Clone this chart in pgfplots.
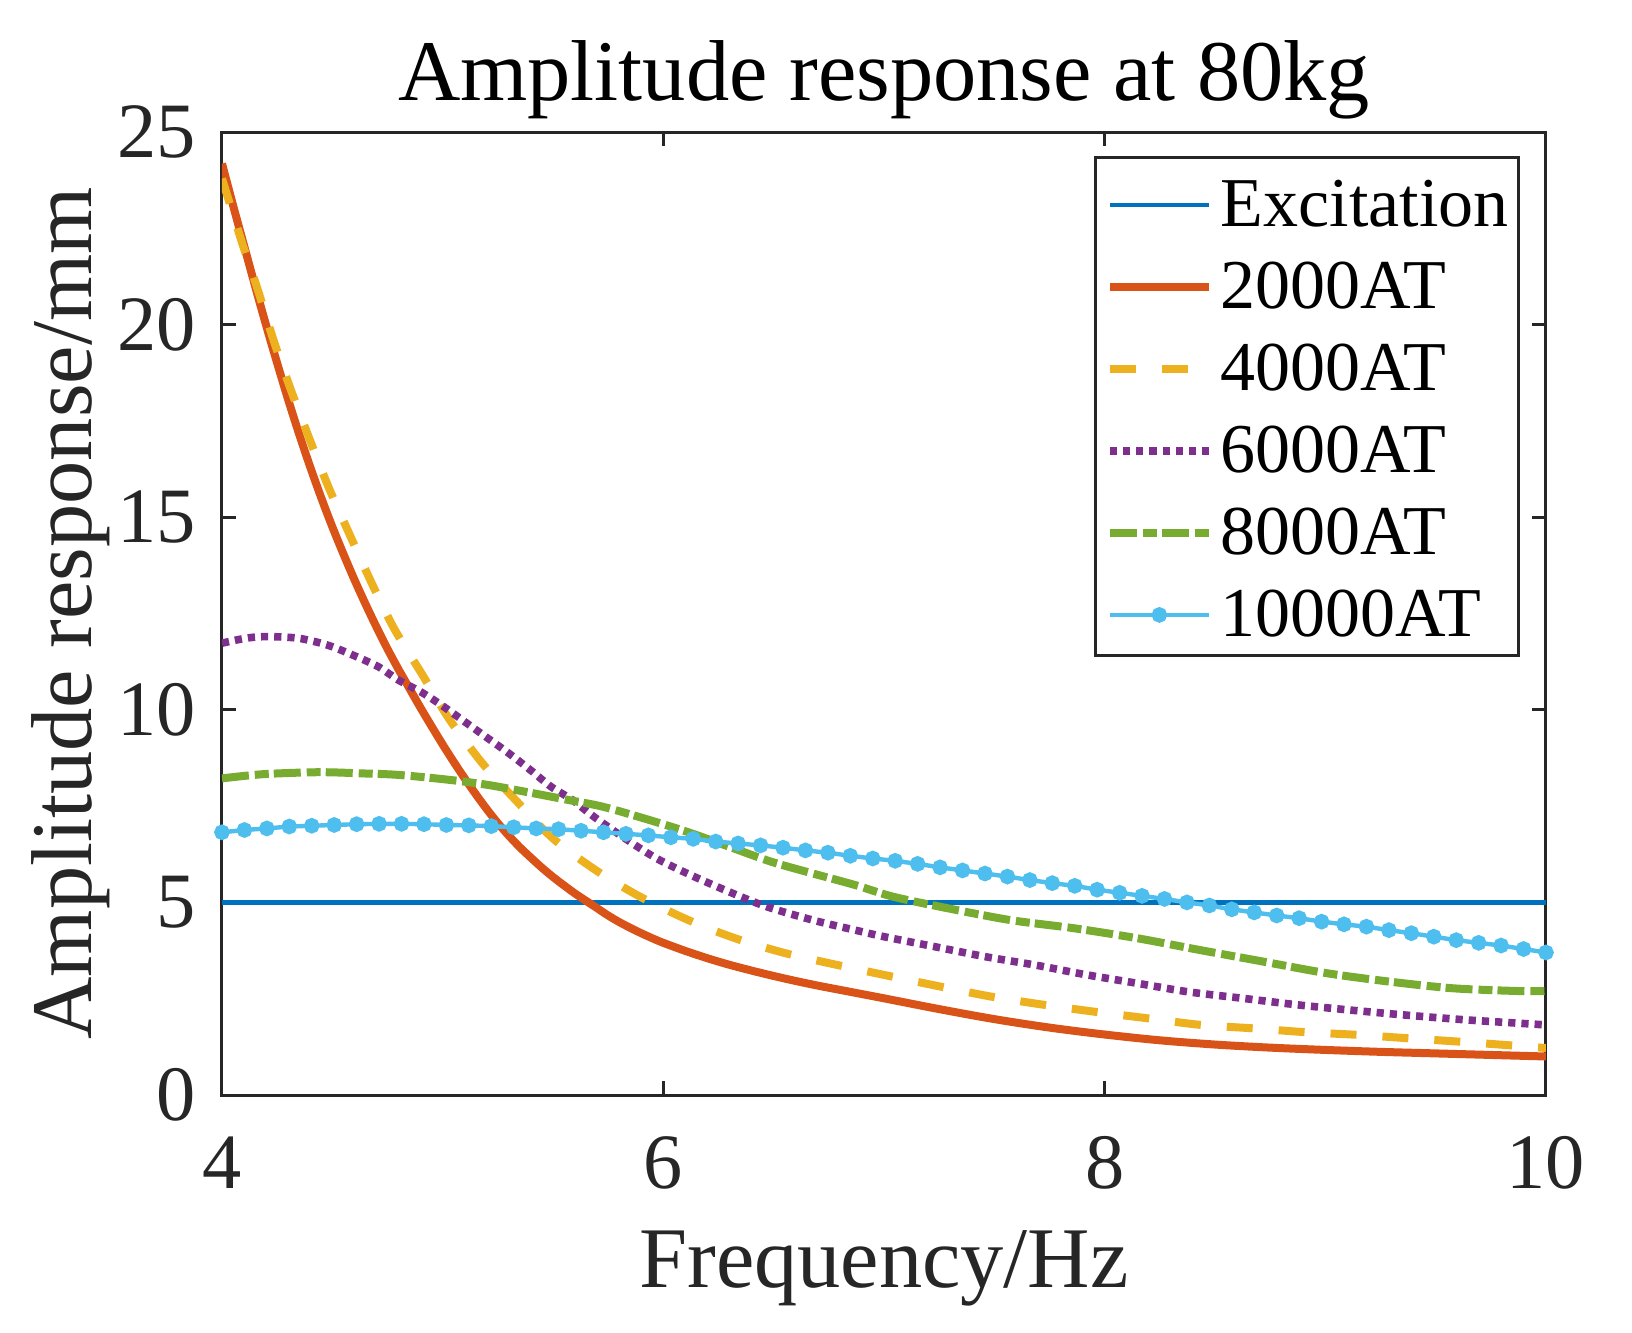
\documentclass[border=0pt]{standalone}
\usepackage{fontspec}
\setmainfont{Liberation Serif}
\usepackage{pgfplots}
\pgfplotsset{compat=1.18}
\definecolor{axgray}{RGB}{38,38,38}
\definecolor{mblue}{RGB}{0,114,189}
\definecolor{morange}{RGB}{217,83,25}
\definecolor{myellow}{RGB}{237,177,32}
\definecolor{mpurple}{RGB}{126,47,142}
\definecolor{mgreen}{RGB}{119,172,48}
\definecolor{mcyan}{RGB}{77,190,238}
\begin{document}
\begin{tikzpicture}
\useasboundingbox (-55.5pt,-59.25pt) rectangle (352.5pt,273.75pt);
\begin{axis}[
  at={(0,0)}, anchor=south west,
  width=331pt, height=240.75pt, scale only axis,
  xmin=4, xmax=10, ymin=0, ymax=25,
  xtick={4,6,8,10}, ytick={0,5,10,15,20,25},
  minor tick num=0,
  tick align=inside,
  major tick length=3.5pt,
  axis line style={color=axgray, line width=0.75pt},
  tick style={color=axgray, line width=0.75pt},
  /pgf/number format/assume math mode=true,
  ticklabel style={font=\fontsize{19.6}{23.5}\selectfont, text=axgray},
  xticklabel style={anchor=base, yshift=-23.25pt},
  yticklabel style={anchor=east, inner sep=0pt, xshift=-6.25pt},
  title={Amplitude response at 80kg},
  title style={font=\fontsize{21.6}{26}\selectfont, at={(axis description cs:0.5,1.03323)}, anchor=base, inner sep=0pt, yshift=-6pt},
  xlabel={Frequency/Hz},
  xlabel style={font=\fontsize{21.6}{26}\selectfont, text=axgray, at={(axis description cs:0.5,-0.19938)}, anchor=base, inner sep=0pt},
  ylabel={Amplitude response/mm},
  ylabel style={font=\fontsize{21.6}{26}\selectfont, text=axgray, at={(axis description cs:-0.09819,0.5)}, anchor=base, inner sep=0pt},
  legend cell align=left,
  legend image code/.code={\draw[#1, yshift=-0.9pt] (0pt,0pt) -- (24.75pt,0pt); \draw[#1, yshift=-0.9pt, only marks] plot coordinates {(12.4pt,0pt)};},
  legend style={at={(axis description cs:1,1)}, anchor=north east, xshift=-6.5pt, yshift=-6pt,
    draw=axgray, line width=0.75pt, font=\fontsize{17.5}{20}\selectfont,
    inner xsep=2.5pt, inner ysep=4.7pt, row sep=8pt,
    nodes={inner sep=0pt, text height=12.5pt, text depth=0pt},
    /tikz/every odd column/.append style={column sep=2pt}},
]
\addplot[mblue, line width=1.1pt] coordinates {(4,5) (10,5)};
\addlegendentry{Excitation}
\addplot[morange, line width=2pt, smooth] coordinates {
(4.00,24.18) (4.05,23.10) (4.10,22.05) (4.15,21.00) (4.20,19.98) (4.25,19.00)
(4.30,18.05) (4.35,17.15) (4.40,16.30) (4.45,15.50) (4.50,14.75) (4.55,14.05)
(4.60,13.38) (4.65,12.75) (4.70,12.15) (4.75,11.58) (4.80,11.05) (4.85,10.55)
(4.90,10.05) (4.95,9.57) (5.00,9.10) (5.05,8.65) (5.10,8.22) (5.15,7.81)
(5.20,7.42) (5.25,7.06) (5.30,6.73) (5.35,6.43) (5.40,6.16) (5.45,5.90)
(5.50,5.66) (5.55,5.44) (5.60,5.23) (5.65,5.04) (5.70,4.85) (5.75,4.66)
(5.80,4.49) (5.85,4.34) (5.90,4.20) (5.95,4.07) (6.00,3.95) (6.10,3.74)
(6.20,3.55) (6.30,3.38) (6.40,3.23) (6.50,3.09) (6.60,2.96) (6.70,2.84)
(6.80,2.73) (6.90,2.62) (7.00,2.51) (7.25,2.23) (7.50,1.97) (7.75,1.75)
(8.00,1.57) (8.25,1.42) (8.50,1.31) (8.75,1.23) (9.00,1.17) (9.25,1.12)
(9.50,1.08) (9.75,1.04) (10.00,1.00)};
\addlegendentry{2000AT}
\addplot[myellow, line width=2pt, dash pattern=on 6.5pt off 6.5pt, smooth] coordinates {
(4.00,23.79) (4.09,22.14) (4.163,20.89) (4.234,19.59) (4.31,18.34) (4.396,17.04)
(4.483,15.78) (4.58,14.53) (4.68,13.27) (4.78,12.11) (4.909,10.90) (5.033,9.73)
(5.186,8.57) (5.33,7.66) (5.50,6.66) (5.693,5.84) (5.894,5.15) (6.114,4.54)
(6.325,4.07) (6.554,3.68) (6.793,3.37) (7.04,3.07) (7.26,2.81) (7.49,2.55)
(7.727,2.34) (7.957,2.16) (8.196,1.99) (8.435,1.82) (8.674,1.73) (8.913,1.63)
(9.152,1.56) (9.382,1.47) (9.62,1.38) (9.86,1.28) (10.00,1.22)};
\addlegendentry{4000AT}
\addplot[mpurple, line width=1.9pt, dash pattern=on 1.8pt off 1.5pt, smooth] coordinates {
(4.00,11.73) (4.10,11.85) (4.19,11.90) (4.344,11.86) (4.478,11.68) (4.593,11.42)
(4.708,11.12) (4.80,10.77) (4.90,10.47) (4.995,10.12) (5.11,9.65) (5.205,9.26)
(5.30,8.87) (5.397,8.44) (5.492,8.00) (5.588,7.66) (5.684,7.23) (5.837,6.62)
(5.97,6.14) (6.124,5.71) (6.296,5.28) (6.468,4.89) (6.678,4.54) (6.87,4.28)
(7.00,4.11) (7.23,3.85) (7.46,3.59) (7.689,3.37) (7.918,3.12) (8.148,2.90)
(8.377,2.68) (8.626,2.51) (8.875,2.34) (9.104,2.21) (9.353,2.08) (9.64,1.95)
(10.00,1.82)};
\addlegendentry{6000AT}
\addplot[mgreen, line width=2pt, dash pattern=on 6.75pt off 1.5pt on 3.5pt off 1.25pt, smooth] coordinates {
(4.00,8.22) (4.19,8.33) (4.44,8.38) (4.63,8.35) (4.80,8.31) (5.033,8.18)
(5.205,8.05) (5.377,7.87) (5.569,7.66) (5.722,7.49) (5.913,7.18) (6.104,6.84)
(6.296,6.45) (6.487,6.06) (6.678,5.75) (6.87,5.45) (7.04,5.15) (7.287,4.85)
(7.574,4.54) (7.86,4.33) (8.148,4.07) (8.435,3.76) (8.722,3.46) (9.009,3.16)
(9.296,2.94) (9.58,2.77) (9.87,2.70) (10.00,2.70)};
\addlegendentry{8000AT}
\addplot[mcyan, line width=1.1pt, mark=*, mark size=1.4pt, mark options={solid, fill=mcyan, draw=mcyan}] coordinates {
(4.0000,6.82) (4.1017,6.88) (4.2034,6.92) (4.3051,6.97) (4.4068,6.99) (4.5085,7.01)
(4.6102,7.03) (4.7119,7.04) (4.8136,7.04) (4.9153,7.03) (5.0169,7.01) (5.1186,7.00)
(5.2203,6.98) (5.3220,6.95) (5.4237,6.92) (5.5254,6.90) (5.6271,6.86) (5.7288,6.82)
(5.8305,6.78) (5.9322,6.74) (6.0339,6.69) (6.1356,6.65) (6.2373,6.58) (6.3390,6.53)
(6.4407,6.48) (6.5424,6.42) (6.6441,6.35) (6.7458,6.29) (6.8475,6.21) (6.9492,6.14)
(7.0508,6.08) (7.1525,6.00) (7.2542,5.91) (7.3559,5.83) (7.4576,5.75) (7.5593,5.67)
(7.6610,5.58) (7.7627,5.50) (7.8644,5.43) (7.9661,5.33) (8.0678,5.25) (8.1695,5.17)
(8.2712,5.09) (8.3729,5.00) (8.4746,4.92) (8.5763,4.82) (8.6780,4.74) (8.7797,4.66)
(8.8814,4.59) (8.9831,4.50) (9.0847,4.43) (9.1864,4.37) (9.2881,4.28) (9.3898,4.20)
(9.4915,4.11) (9.5932,4.02) (9.6949,3.95) (9.7966,3.88) (9.8983,3.79) (10.0000,3.70)};
\addlegendentry{10000AT}
\end{axis}
\end{tikzpicture}
\end{document}
